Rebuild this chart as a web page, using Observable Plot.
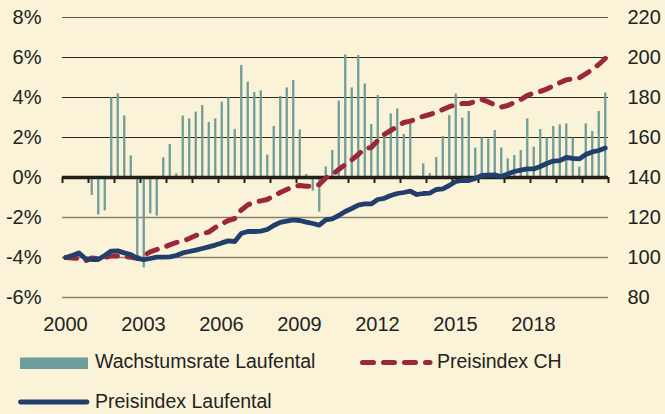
<!DOCTYPE html>
<html><head><meta charset="utf-8">
<script src="https://cdn.jsdelivr.net/npm/d3@7"></script>
<script src="https://cdn.jsdelivr.net/npm/@observablehq/plot@0.6"></script>
<style>
html,body{margin:0;padding:0;background:#faf3d8;}
#wrap{position:relative;width:665px;height:414px;overflow:hidden;font-family:"Liberation Sans",Arial,sans-serif;color:#222;}
.leg{position:absolute;font-size:19.5px;line-height:1;white-space:nowrap;color:#222;}
#legsym{position:absolute;left:0;top:0;}
</style></head><body><div id="wrap"></div>
<script>
// ---- data ----
const tickYears = [2000,2001,2002,2003,2004,2005,2006,2007,2008,2009,2010,2011,2012,2013,2014,2015,2016,2017,2018,2019,2020,2021];
const xLabels = [2000, 2003, 2006, 2009, 2012, 2015, 2018];
const yLeftTicks = [-6, -4, -2, 0, 2, 4, 6, 8];
const yRightTicks = [80, 100, 120, 140, 160, 180, 200, 220];
const seriesNames = ["Wachstumsrate Laufental", "Preisindex CH", "Preisindex Laufental"];

// quarterly growth rate Laufental, 2001Q1 .. 2020Q4 (%)
const growthLaufental = [
  -0.9, -1.87, -1.67, 3.98, 4.18, 3.08, 1.08, -3.98, -4.52, -1.82,
  -1.93, 0.98, 1.65, 0.18, 3.07, 2.93, 3.27, 3.6, 2.75, 2.93,
  3.77, 3.98, 2.4, 5.6, 4.77, 4.25, 4.33, 1.12, 2.55, 4.05,
  4.48, 4.85, 2.38, 0.15, -0.68, -1.73, 0.53, 1.35, 3.82, 6.13,
  4.48, 6.1, 4.68, 2.65, 4.1, 2.0, 3.18, 3.43, 2.15, 2.68,
  0.07, 0.68, 0.2, 1.0, 2.05, 3.1, 4.17, 2.97, 3.3, 1.47,
  1.98, 1.92, 2.35, 1.47, 0.93, 1.1, 1.35, 2.93, 1.52, 2.4,
  1.98, 2.55, 2.63, 2.68, 1.97, 0.52, 2.68, 2.3, 3.3, 4.23
];
// price index CH, 2000Q1 .. 2020Q4
const indexCH = [
  100, 99.8, 99.5, 98.3, 99.7, 99.4, 100, 100.8, 100.8, 100.5,
  100.1, 99.6, 101, 102.8, 104, 105, 106.3, 107.5, 108.2, 109.5,
  111, 112, 112.7, 115, 116.8, 118.5, 119.5, 123.8, 126.3, 127.6,
  128.3, 129, 130.8, 132.5, 134, 135.5, 136, 135.6, 135.7, 136.5,
  139.8, 141.5, 144, 146.5, 148.8, 151.5, 154.5, 155, 158.5, 161.5,
  163.5, 165.5, 167.5, 168.2, 169.3, 170.6, 171.5, 172.5, 174, 175.4,
  176.3, 177, 177, 178, 179, 177.8, 176.3, 175.2, 176, 177.5,
  179, 181, 182.2, 183, 184.2, 185.8, 187.4, 188.8, 189.3, 189.8,
  191.8, 194, 196.5, 199.5
];
// price index Laufental, 2000Q1 .. 2020Q4
const indexLaufental = [
  100, 101, 102.3, 99.5, 99, 99, 101, 103.2, 103.3, 102.3,
  101.5, 99.6, 98.9, 99.5, 100.2, 100.2, 100.3, 101, 102.3, 103,
  103.7, 104.5, 105.3, 106.2, 107.3, 108.3, 108, 112, 113, 113,
  113.2, 114, 116, 117.6, 118.2, 118.8, 118.5, 117.7, 117, 116.2,
  118.8, 119.3, 121, 123, 124.5, 126.2, 126.8, 126.8, 129, 129.6,
  131, 132, 132.5, 133.2, 131.5, 132, 132.2, 134, 134.3, 136,
  138, 138.5, 138.5, 139.5, 141, 141.2, 141.3, 140.5, 141.8, 143,
  143.7, 144.3, 144.3, 145.5, 147, 148.2, 148.4, 150, 149.6, 149.3,
  151.5, 152.8, 153.5, 154.8
];

// ---- build tables ----
const qMid = (startYear, i) => startYear + i * 0.25 + 0.125;
const toPct = v => (v - 140) / 10; // right axis (index) -> left axis (%)
const bars = growthLaufental.map((v, j) => ({t: qMid(2001, j), v}));
const ch = indexCH.map((v, i) => ({t: qMid(2000, i), p: toPct(v)}));
const lf = indexLaufental.map((v, i) => ({t: qMid(2000, i), p: toPct(v)}));

const TEAL = "#6f9d9c", RED = "#9b2739", BLUE = "#203f6c", INK = "#221e19";

const chart = Plot.plot({
  width: 665, height: 345,
  marginLeft: 62, marginRight: 57, marginTop: 17, marginBottom: 48,
  style: {background: "transparent", fontFamily: "'Liberation Sans', Arial, sans-serif", fontSize: "20px", color: "#222", overflow: "visible"},
  x: {domain: [2000, 2021]},
  y: {domain: [-6, 8]},
  marks: [
    Plot.ruleY(yLeftTicks.filter(v => v > 0 && v < 8), {stroke: "#2c2822", strokeWidth: 1}),
    Plot.ruleY(yLeftTicks.filter(v => v === 8), {stroke: "#5e5950", strokeWidth: 1}),
    Plot.ruleY(yLeftTicks.filter(v => v < 0), {stroke: "#8c846f", strokeWidth: 1.4}),
    Plot.ruleX(bars, {x: "t", y1: 0, y2: "v", stroke: TEAL, strokeWidth: 2.3}),
    Plot.ruleY([0], {stroke: INK, strokeWidth: 3.4}),
    Plot.ruleX(tickYears, {x: d => d, y1: 0, y2: -0.3, stroke: INK, strokeWidth: 2}),
    Plot.line(ch, {x: "t", y: "p", stroke: RED, strokeWidth: 5, strokeDasharray: "11,10", strokeLinecap: "round", strokeLinejoin: "round"}),
    Plot.line(lf, {x: "t", y: "p", stroke: BLUE, strokeWidth: 4.8, strokeLinecap: "round", strokeLinejoin: "round"}),
    Plot.axisY({anchor: "left", ticks: yLeftTicks, tickFormat: d => d + "%", tickSize: 0, tickPadding: 21, label: null, fill: "#222"}),
    Plot.axisY({anchor: "right", ticks: yRightTicks.map(toPct), tickFormat: p => String(Math.round(140 + p * 10)), tickSize: 0, tickPadding: 19, label: null, fill: "#222"}),
    Plot.axisX({ticks: xLabels, tickFormat: d => String(d), tickSize: 0, tickPadding: 19, dx: 3, label: null, fill: "#222"})
  ]
});

const wrap = document.getElementById("wrap");
chart.style.position = "absolute"; chart.style.left = "0"; chart.style.top = "0";
wrap.appendChild(chart);

// ---- legend (below the chart) ----
const ns = "http://www.w3.org/2000/svg";
const lsvg = document.createElementNS(ns, "svg");
lsvg.setAttribute("id", "legsym"); lsvg.setAttribute("width", 665); lsvg.setAttribute("height", 414);
lsvg.innerHTML =
  `<rect x="20" y="357.5" width="68" height="11.5" fill="${TEAL}"/>` +
  `<line x1="362.5" y1="362.5" x2="430" y2="362.5" stroke="${RED}" stroke-width="5" stroke-dasharray="11,10" stroke-linecap="round"/>` +
  `<line x1="20.5" y1="402" x2="87" y2="402" stroke="${BLUE}" stroke-width="4.8" stroke-linecap="round"/>`;
wrap.appendChild(lsvg);
const legText = [[seriesNames[0], 95, 352], [seriesNames[1], 437, 352], [seriesNames[2], 95, 392]];
for (const [txt, x, y] of legText) {
  const s = document.createElement("span");
  s.className = "leg"; s.textContent = txt; s.style.left = x + "px"; s.style.top = y + "px";
  wrap.appendChild(s);
}
</script></body></html>
